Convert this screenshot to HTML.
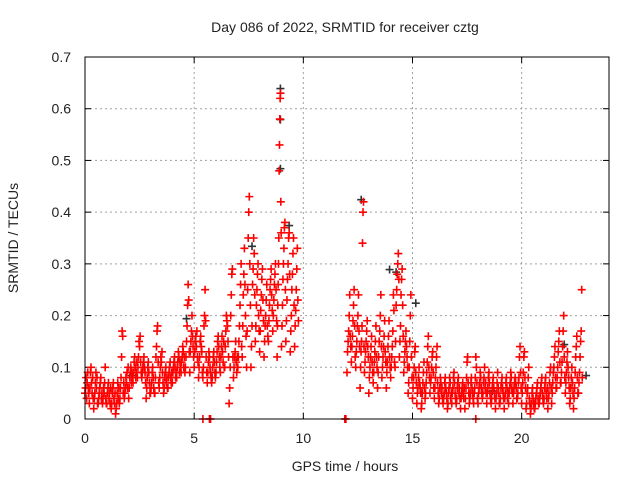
<!DOCTYPE html>
<html><head><meta charset="utf-8"><style>
html,body{margin:0;padding:0;background:#fff;}
svg{display:block;font-family:"Liberation Sans",sans-serif;}
</style></head><body>
<svg id="chart" width="640" height="480" viewBox="0 0 640 480">
<rect x="0" y="0" width="640" height="480" fill="#fff"/>
<text x="345" y="32" text-anchor="middle" font-size="14" fill="#222">Day 086 of 2022, SRMTID for receiver cztg</text>
<text x="345" y="471" text-anchor="middle" font-size="14" fill="#222">GPS time / hours</text>
<text transform="translate(18,238) rotate(-90)" text-anchor="middle" font-size="14" fill="#222">SRMTID / TECUs</text>
<g id="grid"></g>
<g id="ticks"></g>
<g id="marks"></g>
<rect x="85" y="57" width="524" height="362" fill="none" stroke="#000" stroke-width="1"/>
</svg>
<script>
const xTicks = [0,5,10,15,20];
const yTicks = [0,0.1,0.2,0.3,0.4,0.5,0.6,0.7];
const yTickLabels = ["0","0.1","0.2","0.3","0.4","0.5","0.6","0.7"];
const binStarts = [0,0.2,0.4,0.6,0.8,1.0,1.2,1.4,1.6,1.8,2.0,2.2,2.4,2.6,2.8,3.0,3.2,3.4,3.6,3.8,4.0,4.2,4.4,4.6,4.8,5.0,5.2,5.4,5.6,5.8,6.0,6.2,6.4,6.6,6.8,7.0,7.2,7.4,7.6,7.8,8.0,8.2,8.4,8.6,8.8,9.0,9.2,9.4,9.6,
12.0,12.2,12.4,12.6,12.8,13.0,13.2,13.4,13.6,13.8,14.0,14.2,14.4,14.6,14.8,15.0,15.2,15.4,15.6,15.8,16.0,16.2,16.4,16.6,16.8,17.0,17.2,17.4,17.6,17.8,18.0,18.2,18.4,18.6,18.8,19.0,19.2,19.4,19.6,19.8,20.0,20.2,20.4,20.6,20.8,21.0,21.2,21.4,21.6,21.8,22.0,22.2,22.4,22.6];
const binValues = [
[5,6,8,4,7,9,6,5],[3,6,9,10,7,5,8,4],[2,4,5,7,9,6,8,3],[3,4,5,6,7,8,4,5],[3,4,6,5,7,10,4,3],
[3,5,6,7,4,5,3,6],[2,3,5,6,7,4,3,5],[1,2,3,5,7,4,6,3],[4,6,8,12,17,16,5,7],[4,5,6,8,7,9,6,10],
[4,6,8,9,10,7,9,8],[7,9,11,12,10,8,9,11],[8,10,12,15,14,16,11,9],[8,9,10,11,12,10,9,7],[4,6,8,10,11,9,7,5],
[5,6,7,9,10,8,6,5],[5,8,12,14,17,18,11,7],[6,8,10,12,11,13,9,7],[5,6,8,9,10,7,8,6],[6,8,9,10,11,8,7,9],
[7,9,10,11,12,10,8,9],[8,10,11,13,12,9,11,10],[9,11,12,14,13,10,12,9],[10,12,15,18,22,26,23,13],[9,13,15,17,20,16,14,12],
[10,13,15,16,14,17,12,11],[8,10,12,15,16,14,13,9],[8,10,18,20,25,19,12,9],[7,9,11,13,12,10,9,8],[7,8,10,12,13,11,9,8],
[9,11,13,15,16,14,12,10],[9,12,14,16,13,11,15,10],[10,14,17,20,19,18,15,12],[3,6,10,20,24,28,29,12],[8,10,12,13,15,11,9,12],
[10,12,15,18,22,26,30,14],[12,18,24,28,33,26,20,16],[10,17,25,35,40,43,30,22],[10,14,18,26,29,35,32,24],[15,18,22,25,28,30,20,17],
[13,17,21,24,27,29,23,19],[12,15,18,20,23,26,18,16],[15,19,22,25,27,29,24,21],[17,20,23,26,28,30,25,19],[12,18,22,26,30,35,48,53,58,62,63,42,36],
[14,18,22,27,30,33,37,38,25],[15,19,23,27,30,35,36,28],[13,17,20,25,28,32,35,22],[14,18,21,25,29,33,23,19],
[9,13,15,17,20,24,16,14],[11,14,16,19,22,25,18,12],[10,13,15,18,20,24,17,14],[6,10,13,15,18,34,40,42,14],[9,11,13,15,17,19,14,12],
[5,8,10,12,14,16,11,9],[7,9,11,13,15,18,12,10],[6,9,12,15,17,20,24,14],[8,10,12,14,16,19,13,11],[6,9,11,14,16,19,12,10],
[8,10,12,14,17,24,21,11],[10,15,22,25,28,30,32,27],[12,15,18,24,27,29,22,16],[9,11,13,15,17,14,12,10],[5,7,10,15,20,24,12,8],
[4,6,8,10,13,14,9,7],[3,5,6,8,10,7,6,5],[2,3,5,7,9,11,6,4],[5,7,9,11,14,16,10,8],[5,7,8,10,12,13,9,6],
[4,6,8,10,12,14,7,5],[3,4,6,8,7,5,6,4],[3,4,5,7,8,6,5,4],[2,3,5,6,8,7,4,5],[3,5,6,8,9,7,5,4],
[3,4,6,7,8,5,6,4],[2,4,5,6,7,5,4,6],[2,4,6,8,11,12,7,5],[3,4,5,7,8,6,5,4],[3,5,6,8,12,10,7,4],
[3,5,6,7,9,8,6,5],[4,5,7,8,10,6,7,5],[3,5,6,8,9,7,5,4],[3,4,6,7,8,6,5,4],[2,4,5,7,9,6,5,3],
[3,4,6,7,8,6,5,4],[2,4,5,7,8,6,4,5],[3,5,6,7,9,8,6,5],[3,5,6,7,8,7,6,4],[4,5,7,8,12,14,9,6],
[3,5,7,9,12,13,8,6],[2,3,5,6,8,10,4,3],[1,2,3,5,6,4,3,2],[2,3,4,5,6,7,4,3],[3,4,5,6,7,8,5,4],
[3,4,6,7,8,5,4,6],[2,4,5,7,9,10,6,3],[5,7,9,10,12,14,8,6],[6,8,10,13,15,17,11,7],[7,9,11,14,17,20,12,8],
[5,7,9,11,13,10,8,6],[3,4,6,8,10,7,5,2],[4,6,9,12,14,16,8,5],[5,7,9,12,15,17,25,8]];
const zeroTimes = [5.4,5.7,5.75,11.9,11.95,17.9];
const darkTimes = [8.9,8.9,8.9,12.6,14.2,13.9,9.3,7.6,4.6,2.1,15.1,18.6,21.9,22.9];
const darkValues = [0.635,0.575,0.48,0.42,0.28,0.285,0.37,0.33,0.19,0.08,0.22,0.05,0.14,0.08];

const NS="http://www.w3.org/2000/svg";
const X0=85,X1=609,Y0=419,Y1=57,XMAX=24,YMAX=0.7;
function xs(t){return X0+(t/XMAX)*(X1-X0);}
function ys(v){return Y0-(v/YMAX)*(Y0-Y1);}
const grid=document.getElementById('grid'),ticks=document.getElementById('ticks'),marks=document.getElementById('marks');
function line(p,x1,y1,x2,y2,st,dash){const l=document.createElementNS(NS,'line');l.setAttribute('x1',x1);l.setAttribute('y1',y1);l.setAttribute('x2',x2);l.setAttribute('y2',y2);l.setAttribute('stroke',st);if(dash)l.setAttribute('stroke-dasharray',dash);p.appendChild(l);return l;}
yTicks.forEach((v,i)=>{
  const y=ys(v);
  if(i>0&&i<yTicks.length-1){const g=line(grid,X0,y,X1,y,'#a0a0a0','2,3');
  
  }
  line(ticks,X0,y,X0+6,y,'#000');line(ticks,X1-6,y,X1,y,'#000');
  const t=document.createElementNS(NS,'text');t.setAttribute('x',X0-14);t.setAttribute('y',y+5);t.setAttribute('text-anchor','end');t.setAttribute('font-size','14');t.setAttribute('fill','#222');t.textContent=yTickLabels[i];
  
  
  ticks.appendChild(t);
});
xTicks.forEach((v,i)=>{
  const x=xs(v);
  if(i>0){const g=line(grid,x,Y1,x,Y0,'#a0a0a0','2,3');
  
  }
  line(ticks,x,Y0,x,Y0-6,'#000');line(ticks,x,Y1,x,Y1+6,'#000');
  const t=document.createElementNS(NS,'text');t.setAttribute('x',x);t.setAttribute('y',Y0+24);t.setAttribute('text-anchor','middle');t.setAttribute('font-size','14');t.setAttribute('fill','#222');t.textContent=String(v);
  
  
  ticks.appendChild(t);
});
function plus(t,v,color,name){
  const x=xs(t),y=ys(v);
  const p=document.createElementNS(NS,'path');
  p.setAttribute('d','M'+(x-4)+' '+y+'H'+(x+4)+'M'+x+' '+(y-4)+'V'+(y+4));
  p.setAttribute('stroke',color);p.setAttribute('stroke-width','1.6');p.setAttribute('fill','none');
  
  
  marks.appendChild(p);
}
darkTimes.forEach((t,i)=>plus(t+0.05,darkValues[i]+0.004,'#333','dark-point'));
binStarts.forEach((t0,b)=>{
  const vals=binValues[b];
  vals.forEach((v,k)=>{plus(t0+(k/vals.length)*0.2,v/100,'#ff0000','red-point');});
});
zeroTimes.forEach(t=>plus(t,0,'#ff0000','zero-point'));
</script>
</body></html>
